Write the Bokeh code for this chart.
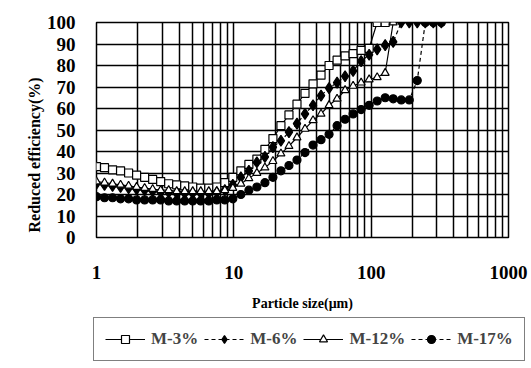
import numpy as np
from bokeh.plotting import figure
from bokeh.layouts import column, row
from bokeh.models import (Legend, LegendItem, Title, FixedTicker, PrintfTickFormatter)
from bokeh.embed import file_html
from bokeh.resources import INLINE

# particle size bins (um)
sizes = [1.0, 1.144, 1.309, 1.497, 1.713, 1.959, 2.241, 2.564, 2.933, 3.354,
         3.837, 4.389, 5.021, 5.743, 6.570, 7.515, 8.597, 9.834, 11.25, 12.87,
         14.72, 16.84, 19.26, 22.03, 25.20, 28.83, 32.98, 37.73, 43.15, 49.36,
         56.47, 64.59, 73.89, 84.52, 96.69, 110.6, 126.5, 144.7, 165.6, 189.4,
         216.6, 247.8, 283.5, 324.3]

m3 = [33, 32.5, 31.5, 31, 30, 29, 28, 27, 26, 25,
      24.5, 24, 23.5, 23, 23, 23.5, 25.5, 28, 31, 34,
      36.5, 41, 46, 52, 57, 62, 67, 71.5, 75.5, 80,
      82.5, 84.5, 85.5, 87, 88, 100, 100]
m6 = [25, 24.5, 24, 23.5, 23, 22.5, 22, 21.5, 21, 21,
      20.5, 20.5, 20.5, 20.5, 20.5, 21, 22, 24.5, 28, 31,
      35, 37.5, 42, 45, 49, 53, 57.5, 61.5, 66, 69.5,
      72, 75, 77.5, 82, 85, 87.5, 89.5, 91, 100, 100,
      100, 100, 100, 100]
m12 = [26, 25.5, 25, 24.5, 24, 23.5, 23, 22.5, 22, 22,
       21.5, 21.5, 21.5, 21.5, 21.5, 21.5, 22, 23, 25, 27.5,
       30, 32.5, 35.5, 39, 42.5, 46.5, 50.5, 54.5, 57.5, 61.5,
       64.5, 68.5, 70.5, 72, 73.5, 74.5, 76.5, 100]
m17 = [19, 18.5, 18.5, 18, 18, 17.5, 17.5, 17.5, 17.5, 17,
       17, 17, 17, 17, 17, 17.5, 17.5, 18, 20, 22,
       23.5, 25.5, 28, 31, 33.5, 36, 39.5, 43, 45.5, 48,
       52, 55, 57.5, 59.5, 61.5, 63.5, 65, 64.5, 64, 64,
       73, 100, 100, 100]

labels = ["M-3%", "M-6%", "M-12%", "M-17%"]
x_ticks = [1, 10, 100, 1000]
y_ticks = [0, 10, 20, 30, 40, 50, 60, 70, 80, 90, 100]

FONT = "Liberation Serif"

p = figure(x_axis_type="log", x_range=(1, 1000), y_range=(0, 100),
           frame_width=412, frame_height=215,
           min_border_left=96, min_border_right=23, min_border_top=22,
           min_border_bottom=76,
           output_backend="svg", toolbar_location=None)
p.background_fill_color = "white"
p.border_fill_color = "white"
p.outline_line_color = "black"
p.outline_line_width = 1.5

minor = [m * d for d in (1, 10, 100) for m in range(2, 10)]
p.xaxis.ticker = FixedTicker(ticks=x_ticks, minor_ticks=minor)
p.xaxis.formatter = PrintfTickFormatter(format="%d")
p.yaxis.ticker = FixedTicker(ticks=y_ticks)

for ax in (p.xaxis, p.yaxis):
    ax.axis_line_color = None
    ax.major_tick_line_color = None
    ax.minor_tick_line_color = None
    ax.major_label_text_font = FONT
    ax.major_label_text_font_style = "bold"
    ax.major_label_text_font_size = "19px"
    ax.major_label_text_color = "black"

p.yaxis.major_label_standoff = 15
p.xaxis.major_label_standoff = 22
p.xaxis.axis_label = "Particle size(\u03bcm)"
p.xaxis.axis_label_text_font = FONT
p.xaxis.axis_label_text_font_style = "bold"
p.xaxis.axis_label_text_font_size = "14px"
p.xaxis.axis_label_standoff = 14
p.xaxis.axis_label_text_color = "black"

p.xgrid.grid_line_color = "black"
p.xgrid.grid_line_width = 1.5
p.xgrid.minor_grid_line_color = "black"
p.xgrid.minor_grid_line_width = 1.5
p.ygrid.grid_line_color = "black"
p.ygrid.grid_line_width = 1.5

series = [
    (m3, "solid", "square", 8, "white"),
    (m6, "4 3", "diamond", 11, "black"),
    (m12, "solid", "triangle", 8, "white"),
    (m17, "4 3", "circle", 8, "black"),
]

# legend lives in a small strip figure under the chart
lf = figure(width=531, height=55, x_range=(0, 1), y_range=(0, 1),
            x_axis_location=None, y_axis_location=None,
            min_border_left=0, min_border_right=0, min_border_top=0,
            min_border_bottom=0, output_backend="svg", toolbar_location=None)
lf.outline_line_color = None
lf.xgrid.visible = False
lf.ygrid.visible = False
lf.background_fill_color = "white"
lf.border_fill_color = "white"

items = []
for (vals, dash, marker, size, fill), lab in zip(series, labels):
    xs = sizes[:len(vals)]
    p.line(xs, vals, line_color="black", line_width=1.2, line_dash=dash)
    p.scatter(xs, vals, marker=marker, size=size, fill_color=fill,
              line_color="black", line_width=1.2)
    # same series in the legend strip (falls outside its 0..1 ranges)
    l1 = lf.line(xs, vals, line_color="black", line_width=1.2, line_dash=dash)
    l2 = lf.scatter(xs, vals, marker=marker, size=size, fill_color=fill,
                    line_color="black", line_width=1.2)
    items.append(LegendItem(label=lab, renderers=[l1, l2]))

legend = Legend(items=items, orientation="horizontal", location=(93, 7),
                glyph_width=40, glyph_height=20, label_standoff=6, spacing=6,
                padding=11, margin=0,
                border_line_color="black", border_line_width=1.5,
                background_fill_color="white", background_fill_alpha=1.0,
                label_text_font=FONT, label_text_font_style="bold",
                label_text_font_size="17px")
lf.add_layout(legend, "center")

ytitle = Title(text="Reduced efficiency(%)", align="left", offset=5,
               text_font=FONT, text_font_style="bold", text_font_size="16px",
               text_color="black", standoff=1)
p.add_layout(ytitle, "left")

layout = column(p, row(lf), spacing=0)
open("out.html", "w").write(file_html(layout, INLINE))
